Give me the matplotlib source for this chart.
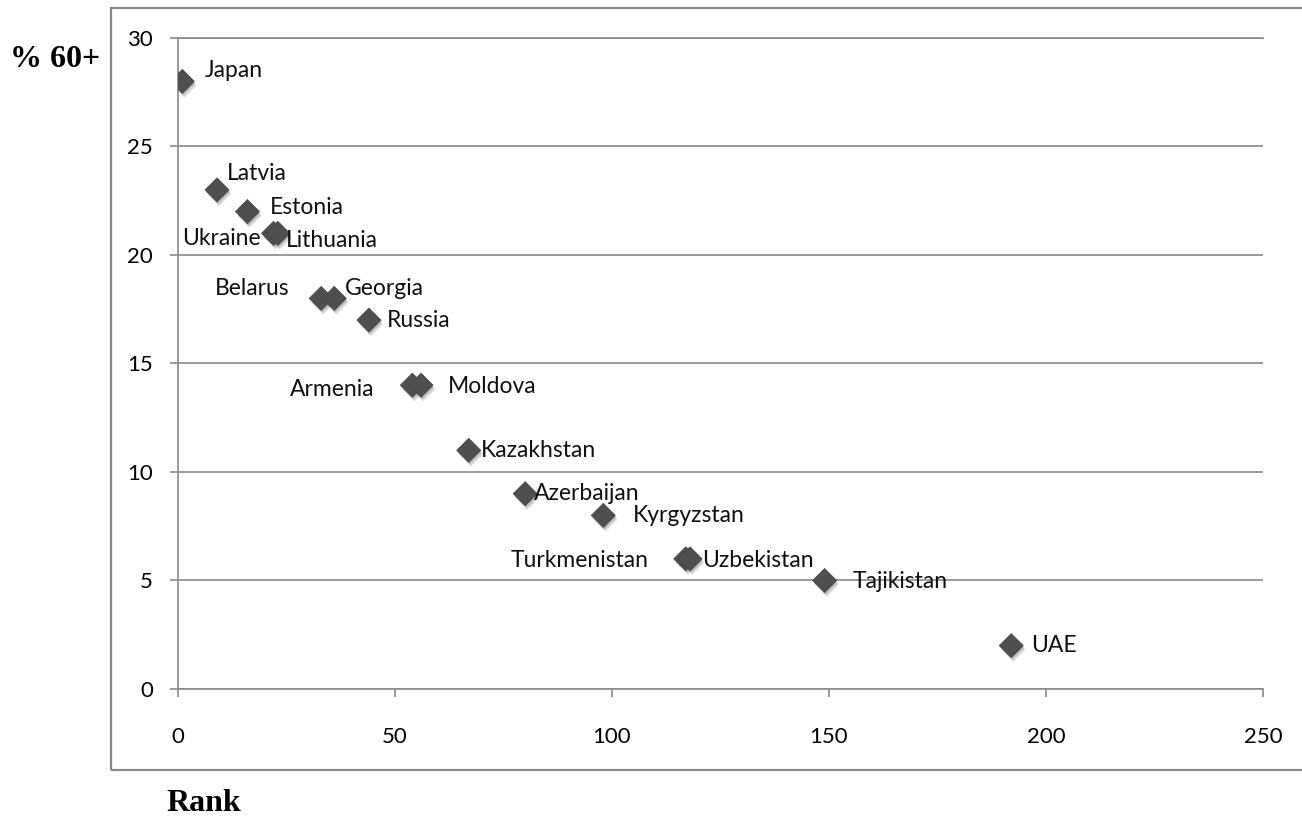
import matplotlib.pyplot as plt
import matplotlib.patheffects as pe
from matplotlib.patches import Rectangle

# rank vs share of population aged 60+
countries = ['Japan', 'Latvia', 'Estonia', 'Ukraine', 'Lithuania', 'Belarus',
             'Georgia', 'Russia', 'Armenia', 'Moldova', 'Kazakhstan',
             'Azerbaijan', 'Kyrgyzstan', 'Turkmenistan', 'Uzbekistan',
             'Tajikistan', 'UAE']
rank = [1, 9, 16, 22, 23, 33, 36, 44, 54, 56, 67, 80, 98, 117, 118, 149, 192]
pct60 = [28, 23, 22, 21, 21, 18, 18, 17, 14, 14, 11, 9, 8, 6, 6, 5, 2]

# label offsets (points) and alignment for each country
offsets = {
    'Japan': (16, 8, 'left'), 'Latvia': (7, 12, 'left'),
    'Estonia': (16, 3, 'left'), 'Ukraine': (-9, -4, 'right'),
    'Lithuania': (6, -5, 'left'), 'Belarus': (-23, 7, 'right'),
    'Georgia': (8, 7, 'left'), 'Russia': (13, 0, 'left'),
    'Armenia': (-27, -3, 'right'), 'Moldova': (19, -1, 'left'),
    'Kazakhstan': (9, 0, 'left'), 'Azerbaijan': (6, 0, 'left'),
    'Kyrgyzstan': (21, 0, 'left'), 'Turkmenistan': (-27, -1, 'right'),
    'Uzbekistan': (9, -1, 'left'), 'Tajikistan': (20, -1, 'left'),
    'UAE': (14, 0, 'left'),
}

plt.rcParams['font.family'] = ['Lato', 'DejaVu Sans']
grey = '#8a8a8a'

fig = plt.figure(figsize=(13.02, 8.22), dpi=100)
ax = fig.add_axes([0.1367, 0.1618, 0.8333, 0.792])

# outer chart frame
fig.patches.append(Rectangle((0.0853, 0.0633), 0.95, 0.927, transform=fig.transFigure,
                             fill=False, edgecolor=grey, linewidth=1.6))

ax.scatter(rank, pct60, marker='D', s=150, color='#4f4f4f', edgecolors='#444444',
           linewidths=0.5, zorder=3,
           path_effects=[pe.SimplePatchShadow(offset=(1.5, -3), shadow_rgbFace='#999999', alpha=0.35),
                         pe.SimplePatchShadow(offset=(0.8, -1.5), shadow_rgbFace='#777777', alpha=0.35),
                         pe.Normal()])

for name, x, y in zip(countries, rank, pct60):
    dx, dy, ha = offsets[name]
    ax.annotate(name, (x, y), xytext=(dx, dy), textcoords='offset points',
                ha=ha, va='center', fontsize=16.5, color='#111111', zorder=4)

ax.set_xlim(0, 250)
ax.set_ylim(0, 30)
ax.set_xticks([0, 50, 100, 150, 200, 250])
ax.set_yticks([0, 5, 10, 15, 20, 25, 30])
ax.yaxis.grid(True, color=grey, linewidth=1.2)
ax.set_axisbelow(True)
ax.spines['right'].set_visible(False)
for side in ['left', 'bottom', 'top']:
    ax.spines[side].set_color(grey)
    ax.spines[side].set_linewidth(1.2)
ax.tick_params(axis='y', direction='out', length=6, width=1.2, color=grey, pad=12, labelsize=16)
ax.tick_params(axis='x', direction='out', length=6, width=1.2, color=grey, pad=21, labelsize=16)

fig.text(0.0077, 0.928, '% 60+', family='Liberation Serif', fontweight='bold',
         fontsize=23, va='center', ha='left')
fig.text(0.128, 0.022, 'Rank', family='Liberation Serif', fontweight='bold',
         fontsize=23, va='center', ha='left')

fig.savefig('out.png', dpi=100)
